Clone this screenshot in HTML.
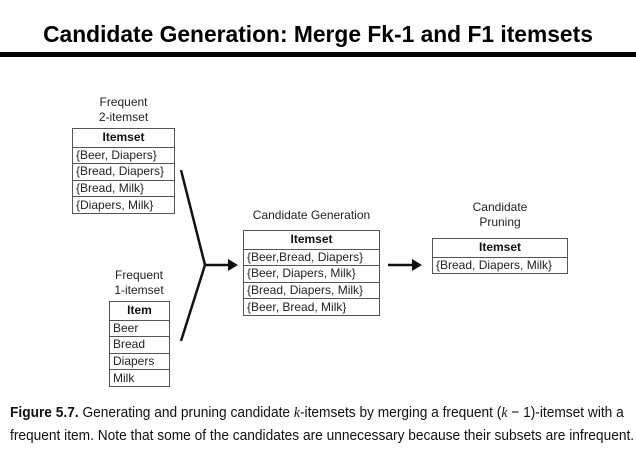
<!DOCTYPE html>
<html><head><style>
body{margin:0;width:636px;height:459px;background:#fff;position:relative;overflow:hidden;font-family:"Liberation Sans",sans-serif;color:#222}
.t{position:absolute;left:0;width:636px;top:21px;text-align:center;font-weight:bold;font-size:22.8px;color:#000}
.bar{position:absolute;left:0;width:636px;top:52px;height:5px;background:#000}
.lbl{position:absolute;font-size:12px;text-align:center;line-height:15px;color:#222}
table{position:absolute;border-collapse:collapse;font-size:12px;color:#222}
td{border:1px solid #555;height:15.6px;padding:0 3px;line-height:15px;white-space:nowrap}
th{border:1px solid #555;height:15.6px;line-height:15px;font-size:12px;color:#111}
.cap{position:absolute;left:10px;font-size:15px;white-space:nowrap;transform-origin:0 0;color:#111}
</style></head><body>
<div class="t">Candidate Generation: Merge Fk-1 and F1 itemsets</div>
<div class="bar"></div>
<div class="lbl" style="left:72px;width:103px;top:95px">Frequent<br>2-itemset</div>
<table style="left:72px;top:128px;width:103px"><tr><th>Itemset</th></tr><tr><td>{Beer, Diapers}</td></tr><tr><td>{Bread, Diapers}</td></tr><tr><td>{Bread, Milk}</td></tr><tr><td>{Diapers, Milk}</td></tr></table>
<div class="lbl" style="left:100px;width:78px;top:268px">Frequent<br>1-itemset</div>
<table style="left:109px;top:301px;width:61px"><tr><th>Item</th></tr><tr><td>Beer</td></tr><tr><td>Bread</td></tr><tr><td>Diapers</td></tr><tr><td>Milk</td></tr></table>
<div class="lbl" style="left:243px;width:137px;top:208px">Candidate Generation</div>
<table style="left:243px;top:230px;width:137px"><tr><th>Itemset</th></tr><tr><td>{Beer,Bread, Diapers}</td></tr><tr><td>{Beer, Diapers, Milk}</td></tr><tr><td>{Bread, Diapers, Milk}</td></tr><tr><td>{Beer, Bread, Milk}</td></tr></table>
<div class="lbl" style="left:432px;width:136px;top:200px">Candidate<br>Pruning</div>
<table style="left:432px;top:238px;width:136px"><tr><th>Itemset</th></tr><tr><td>{Bread, Diapers, Milk}</td></tr></table>
<svg width="636" height="459" style="position:absolute;left:0;top:0">
<polyline points="181,170 205,265 181,341" fill="none" stroke="#111" stroke-width="2.5"/>
<line x1="205" y1="265" x2="230" y2="265" stroke="#111" stroke-width="2.5"/>
<polygon points="228,259 238,265 228,271" fill="#111"/>
<line x1="388" y1="265" x2="414" y2="265" stroke="#111" stroke-width="2.5"/>
<polygon points="412,259 422,265 412,271" fill="#111"/>
</svg>
<div class="cap" style="top:404px;transform:scaleX(0.915)"><b>Figure 5.7.</b> Generating and pruning candidate <i style="font-family:'Liberation Serif'">k</i>-itemsets by merging a frequent (<i style="font-family:'Liberation Serif'">k</i> − 1)-itemset with a</div>
<div class="cap" style="top:427px;transform:scaleX(0.915)">frequent item. Note that some of the candidates are unnecessary because their subsets are infrequent.</div>
</body></html>
